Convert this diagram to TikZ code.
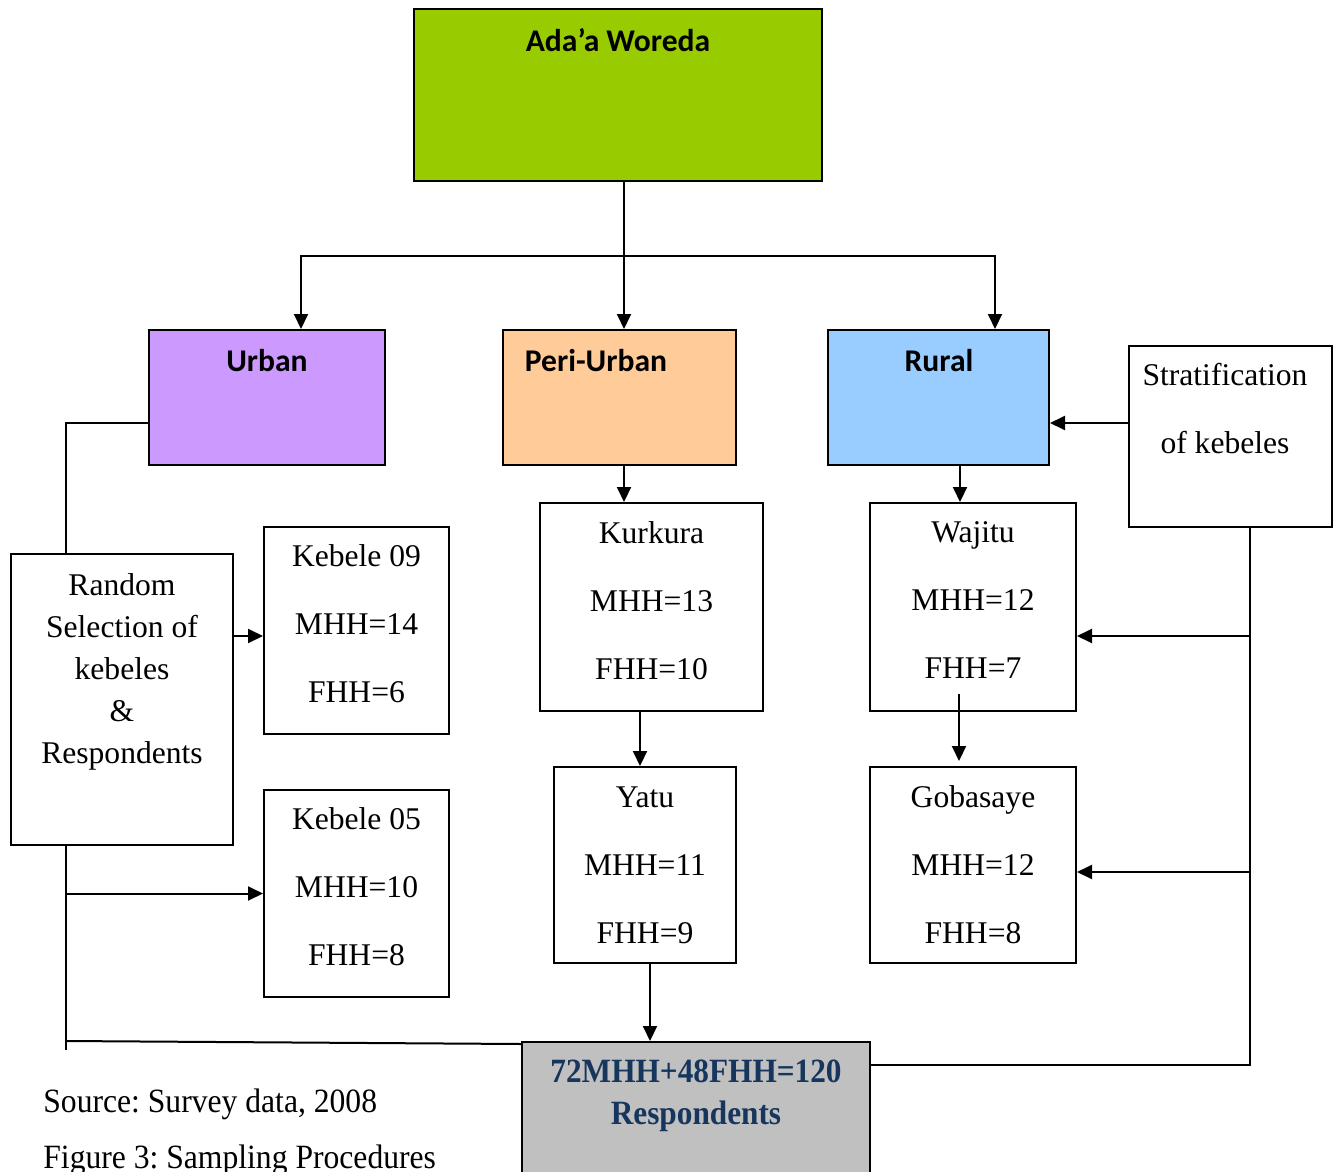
\documentclass[tikz,border=0pt]{standalone}
\usepackage{fontspec}
\setmainfont{Liberation Serif}
\newfontfamily\hdrfont{Carlito}
\newfontfamily\totalfont[FakeStretch=0.92]{Liberation Serif}
\newfontfamily\notefont[FakeStretch=0.93]{Liberation Serif}
\usetikzlibrary{arrows.meta}
\definecolor{woredagreen}{HTML}{99CC00}
\definecolor{urbanlilac}{HTML}{CC99FF}
\definecolor{periorange}{HTML}{FFCC99}
\definecolor{ruralblue}{HTML}{99CCFF}
\definecolor{totalgray}{HTML}{C0C0C0}
\definecolor{totalnavy}{HTML}{17365D}
\frenchspacing
\begin{document}
\begin{tikzpicture}[x=0.5pt,y=-0.5pt,
    box/.style={draw,line width=1pt,rectangle,inner sep=0pt},
    txt/.style={font=\fontsize{15.8}{34}\selectfont,align=center,inner sep=0pt},
    tallbox/.style={box,txt,text depth=6.5pt},
    hdr/.style={font=\hdrfont\bfseries\fontsize{15.8}{19}\selectfont,inner sep=0pt},
    link/.style={line width=1pt},
    arr/.style={line width=1pt,-{Triangle[length=7.5pt,width=7pt]}}]
    \useasboundingbox (0,0) rectangle (1338,1172);
    % coloured levels
    \node[box,fill=woredagreen,minimum width=204pt,minimum height=86pt] (woreda) at (618,95) {};
    \node[hdr] (woredatxt) at (618,40) {Ada’a Woreda};
    \node[box,fill=urbanlilac,minimum width=118pt,minimum height=67.5pt] (urban) at (267,397.5) {};
    \node[hdr] (urbantxt) at (267,361) {Urban};
    \node[box,fill=periorange,minimum width=116.5pt,minimum height=67.5pt] (peri) at (619.5,397.5) {};
    \node[hdr] (peritxt) at (596,361) {Peri-Urban};
    \node[box,fill=ruralblue,minimum width=110.5pt,minimum height=67.5pt] (rural) at (938.5,397.5) {};
    \node[hdr] (ruraltxt) at (939,361) {Rural};
    % method boxes
    \node[box,minimum width=101.5pt,minimum height=90.5pt] (strat) at (1230.5,436.5) {};
    \node[txt] (strattxt) at (1225,409) {Stratification\\ of kebeles};
    \node[box,minimum width=111pt,minimum height=145.5pt] (random) at (122,699.5) {};
    \node[txt,font=\fontsize{15.8}{21}\selectfont] (randomtxt) at (122,672)
        {Random\\Selection of\\kebeles\\\&\\Respondents};
    % kebeles
    \node[tallbox,minimum width=92.5pt,minimum height=103.5pt] (keb09) at (356.5,630.5) {Kebele 09\\MHH=14\\FHH=6};
    \node[tallbox,minimum width=92.5pt,minimum height=103.5pt] (keb05) at (356.5,893.5) {Kebele 05\\MHH=10\\FHH=8};
    \node[tallbox,minimum width=111.5pt,minimum height=104pt] (kurkura) at (651.5,607) {Kurkura\\MHH=13\\FHH=10};
    \node[box,txt,minimum width=91pt,minimum height=98pt] (yatu) at (645,865) {Yatu\\MHH=11\\FHH=9};
    \node[tallbox,minimum width=103pt,minimum height=104pt] (wajitu) at (973,607) {Wajitu\\MHH=12\\FHH=7};
    \node[box,txt,minimum width=103pt,minimum height=98pt] (gobasaye) at (973,865) {Gobasaye\\MHH=12\\FHH=8};
    % total
    \node[box,fill=totalgray,minimum width=174pt,minimum height=74pt] (total) at (696,1116) {};
    \node[txt,font=\totalfont\bfseries\fontsize{17}{21}\selectfont,text=totalnavy] (totaltxt) at (696,1096)
        {72MHH+48FHH=120\\Respondents};
    \node[anchor=west,inner sep=0pt,font=\notefont\fontsize{17}{20}\selectfont] (source) at (43,1104) {Source: Survey data, 2008};
    \node[anchor=west,inner sep=0pt,font=\notefont\fontsize{17}{20}\selectfont] (figcap) at (43,1160) {Figure 3: Sampling Procedures};
    % guides
    \coordinate (split) at (624,256);
    \coordinate (lx) at (66,0);
    \coordinate (kx) at (640,0);
    \coordinate (yx) at (650,0);
    \coordinate (rx) at (960,0);
    \coordinate (tx) at (1250,0);
    \coordinate (midrow) at (0,423);
    \coordinate (row1) at (0,636);
    \coordinate (row2) at (0,872);
    \coordinate (lowrow) at (0,1050);
    \coordinate (botrow) at (0,1065);
    % connectors
    \draw[link] (split |- woreda.south) -- (split);
    \draw[arr] (split) -| ([xshift=17pt]urban.north);
    \draw[arr] (split) -- (split |- peri.north);
    \draw[arr] (split) -| ([xshift=28.25pt]rural.north);
    \draw[arr] (strat.west |- midrow) -- (rural.east |- midrow);
    \draw[link] (urban.west |- midrow) -| (lx |- random.north);
    \draw[link] (lx |- random.south) -- (lx |- lowrow);
    \draw[arr] (random.east |- row1) -- (keb09.west |- row1);
    \draw[arr] (lx |- keb05.west) -- (keb05.west);
    \draw[link] (lx |- total.north west) -- ([yshift=-1.5pt]total.north west);
    \draw[arr] (split |- peri.south) -- (split |- kurkura.north);
    \draw[arr] (kx |- kurkura.south) -- (kx |- yatu.north);
    \draw[arr] (yx |- yatu.south) -- (yx |- total.north);
    \draw[arr] (rx |- rural.south) -- (rx |- wajitu.north);
    \draw[arr] ([shift={(-7pt,9pt)}]wajitu.south) -- ([shift={(-7pt,2.5pt)}]gobasaye.north);
    \draw[link] (tx |- strat.south) |- (total.east |- botrow);
    \draw[arr] (tx |- row1) -- (wajitu.east |- row1);
    \draw[arr] (tx |- row2) -- (gobasaye.east |- row2);
\end{tikzpicture}
\end{document}
